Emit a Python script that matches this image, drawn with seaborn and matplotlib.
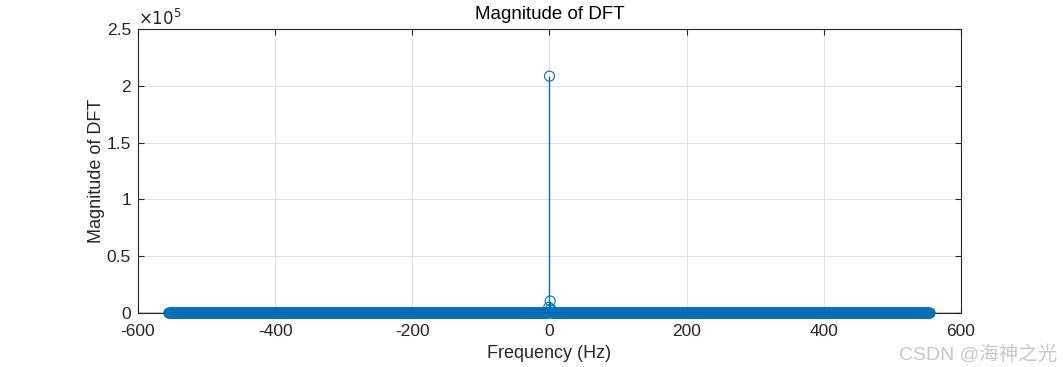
import numpy as np
import pandas as pd
import matplotlib
matplotlib.use("Agg")
import matplotlib.pyplot as plt
import seaborn as sns
from matplotlib.ticker import FuncFormatter

# --- data ---
# frequency grid of the DFT bins (Hz), spacing 1 Hz
freq_start = -555
freq_stop = 555
# bins that rise above the floor (Hz -> magnitude)
peak_freqs = [0, 1, -1, 2]
peak_mags = [2.085e5, 1.06e4, 5.0e3, 3.5e3]
floor_mag = 0.0

x_ticks = [-600, -400, -200, 0, 200, 400, 600]
y_ticks = [0, 0.5e5, 1e5, 1.5e5, 2e5, 2.5e5]

freqs = np.arange(freq_start, freq_stop + 1)
mags = np.full(len(freqs), floor_mag)
for f, m in zip(peak_freqs, peak_mags):
    mags[freqs == f] = m
df = pd.DataFrame({"freq": freqs, "mag": mags})

sns.set_style("whitegrid")
plt.rcParams['font.family'] = ['Liberation Sans', 'Noto Sans CJK SC', 'DejaVu Sans']
plt.rcParams['axes.unicode_minus'] = False

fig = plt.figure(figsize=(10.63, 3.67), dpi=100)
ax = fig.add_axes([0.1298, 0.147, 0.9040 - 0.1298, 0.921 - 0.147])

blue = '#0072BD'
ax.vlines(df["freq"], 0, df["mag"], color=blue, lw=1.0, zorder=2)
sns.scatterplot(data=df, x="freq", y="mag", ax=ax, marker='o', s=52,
                facecolors='none', edgecolor=blue, linewidth=0.8,
                clip_on=False, zorder=3, legend=False)
ax.axhline(0, color='black', lw=1.0, zorder=4)

ax.set_xlim(-600, 600)
ax.set_ylim(0, 2.5e5)
ax.set_xticks(x_ticks)
ax.set_yticks(y_ticks)
ax.yaxis.set_major_formatter(FuncFormatter(lambda v, p: f"{v/1e5:g}"))
ax.tick_params(labelsize=12.5, colors='#262626', direction='in', length=4,
               width=0.8, top=True, right=True, bottom=True, left=True)
ax.tick_params(axis='x', pad=8)
ax.tick_params(axis='y', pad=5)
ax.grid(True, color='#e2e2e2', lw=0.7)
for s in ax.spines.values():
    s.set_color('#262626')
    s.set_linewidth(0.8)
    s.set_visible(True)

ax.set_title("Magnitude of DFT", fontsize=13.5, color='black', pad=7)
ax.set_xlabel("Frequency (Hz)", fontsize=13, color='#262626', labelpad=4)
ax.set_ylabel("Magnitude of DFT", fontsize=13, color='#262626', labelpad=1)
ax.text(0.0, 1.005, r"$\times10^5$", transform=ax.transAxes, fontsize=12,
        color='#262626', ha='left', va='bottom')

fig.text(0.995, 0.01, "CSDN @海神之光", fontsize=14, color='#c8c8c8',
         ha='right', va='bottom')

fig.savefig("out.png", dpi=100, facecolor='white')
